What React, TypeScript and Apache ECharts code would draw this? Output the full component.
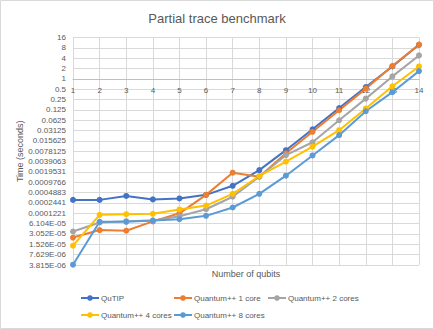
import React, { useEffect, useRef } from "react";
import * as echarts from "echarts";

const categories = ["1", "2", "3", "4", "5", "6", "7", "8", "9", "10", "11", "12", "13", "14"];
const qutip = [3.0e-4, 3.0e-4, 3.9e-4, 3.1e-4, 3.3e-4, 4.2e-4, 7.7e-4, 2.2e-3, 8.4e-3, 0.034, 0.142, 0.58, 2.3, 9.8];
const core1 = [2.4e-5, 3.97e-5, 3.8e-5, 7.1e-5, 1.22e-4, 4.2e-4, 1.86e-3, 1.42e-3, 6.8e-3, 0.0287, 0.122, 0.52, 2.36, 10];
const core2 = [3.6e-5, 6.6e-5, 7.2e-5, 7.5e-5, 1.0e-4, 1.6e-4, 3.7e-4, 1.42e-3, 6.0e-3, 0.0143, 0.0625, 0.266, 1.18, 4.8];
const core4 = [1.39e-5, 1.1e-4, 1.15e-4, 1.18e-4, 1.58e-4, 2.05e-4, 4.5e-4, 1.49e-3, 3.9e-3, 0.0107, 0.032, 0.137, 0.61, 2.3];
const core8 = [3.9e-6, 6.9e-5, 6.9e-5, 7.5e-5, 8.2e-5, 1.03e-4, 1.8e-4, 4.5e-4, 1.52e-3, 5.9e-3, 0.023, 0.114, 0.41, 1.68];

const seriesNames = ["QuTIP", "Quantum++ 1 core", "Quantum++ 2 cores", "Quantum++ 4 cores", "Quantum++ 8 cores"];
const seriesData = [qutip, core1, core2, core4, core8];
const colors = ["#4472C4", "#ED7D31", "#A5A5A5", "#FFC000", "#5B9BD5"];
const legendPos = [
  { left: 80, top: 294 },
  { left: 173, top: 294 },
  { left: 267, top: 294 },
  { left: 80, top: 311 },
  { left: 173, top: 311 },
];

const FONT = "Liberation Sans";
const TXT = "#595959";

function fmt(v: number): string {
  if (v >= 0.99) return String(Math.round(v));
  if (v >= 0.99e-4) {
    let s = v.toFixed(7);
    s = s.replace(/0+$/, "");
    return s;
  }
  const [m, e] = v.toExponential(3).split("e");
  const ex = parseInt(e, 10);
  return m + "E" + (ex < 0 ? "-" : "+") + String(Math.abs(ex)).padStart(2, "0");
}

export default function App() {
  const ref = useRef<HTMLDivElement>(null);
  useEffect(() => {
    if (!ref.current) return;
    const chart = echarts.init(ref.current, null, { renderer: "svg" });
    const plotH = 329 - 37.5 - 64;
    const unit = plotH / 22;
    chart.setOption({
      animation: false,
      backgroundColor: "#ffffff",
      color: colors,
      title: {
        text: "Partial trace benchmark",
        left: "center",
        top: 7,
        textStyle: { fontFamily: FONT, fontSize: 13, fontWeight: "normal", color: TXT },
      },
      graphic: [
        {
          type: "rect",
          shape: { x: 0.5, y: 0.5, width: 433, height: 328 },
          style: { fill: "none", stroke: "#d9d9d9", lineWidth: 1 },
          silent: true,
        },
      ],
      legend: seriesNames.map((n, i) => ({
        data: [n],
        left: legendPos[i].left,
        top: legendPos[i].top,
        itemWidth: 18,
        itemHeight: 7,
        itemGap: 0,
        padding: 0,
        textStyle: { fontFamily: FONT, fontSize: 8, color: TXT, padding: [0, 0, 0, -3] },
      })),
      grid: { left: 73, right: 15, top: 37.5, bottom: 64 },
      xAxis: [
        {
          type: "category",
          data: categories,
          boundaryGap: false,
          position: "bottom",
          axisLine: { show: false },
          axisTick: { show: false },
          axisLabel: { show: false },
          splitLine: { show: true, lineStyle: { color: "#d9d9d9", width: 1 } },
          name: "Number of qubits",
          nameLocation: "middle",
          nameGap: 4,
          nameMoveOverlap: false,
          nameTextStyle: { fontFamily: FONT, fontSize: 9, color: TXT, verticalAlign: "top" },
        },
        {
          type: "category",
          data: categories,
          boundaryGap: false,
          position: "top",
          offset: -4 * unit,
          axisLine: { show: true, lineStyle: { color: "#bfbfbf", width: 1 } },
          axisTick: { show: false },
          axisLabel: { show: true, inside: true, margin: 8, fontFamily: FONT, fontSize: 8, color: TXT },
          splitLine: { show: false },
        },
      ],
      yAxis: {
        type: "log",
        logBase: 2,
        min: Math.pow(2, -18),
        max: 16,
        interval: 1,
        splitNumber: 22,
        axisLine: { show: false },
        axisTick: { show: false },
        splitLine: { show: true, lineStyle: { color: "#d9d9d9", width: 1 } },
        axisLabel: { fontFamily: FONT, fontSize: 8, color: TXT, margin: 7, formatter: (v: number) => fmt(v) },
        name: "Time (seconds)",
        nameLocation: "middle",
        nameRotate: 90,
        nameGap: 49,
        nameMoveOverlap: false,
        nameTextStyle: { fontFamily: FONT, fontSize: 9, color: TXT },
      },
      series: seriesNames.map((n, i) => ({
        name: n,
        type: "line",
        xAxisIndex: 0,
        data: seriesData[i],
        symbol: "circle",
        symbolSize: 6,
        lineStyle: { width: 2, color: colors[i] },
        itemStyle: { color: colors[i] },
      })),
    });
    return () => chart.dispose();
  }, []);
  return (
    <div style={{ position: "fixed", left: 0, top: 0, width: 434, height: 329, background: "#fff" }}>
      <div ref={ref} style={{ width: 434, height: 329 }} />
    </div>
  );
}
